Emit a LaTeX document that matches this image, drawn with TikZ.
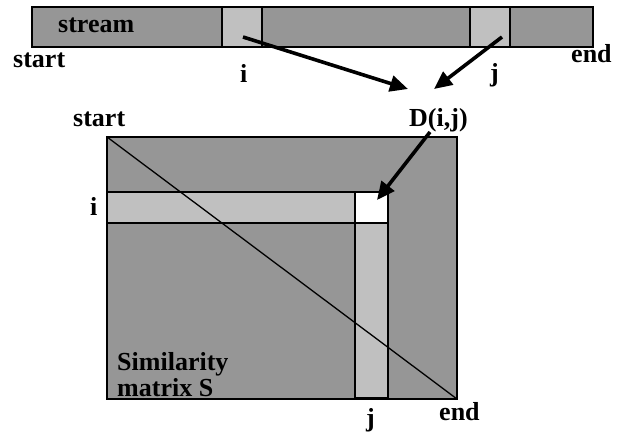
\documentclass[tikz,border=0pt]{standalone}
\usepackage{fontspec}
\setmainfont{Liberation Serif}
\usetikzlibrary{arrows.meta}
\definecolor{darkg}{RGB}{150,150,150}
\definecolor{lightg}{RGB}{192,192,192}
\begin{document}
\begin{tikzpicture}[x=1pt,y=-1pt,
  lbl/.style={inner sep=0pt,anchor=base west,font=\fontsize{26}{29}\selectfont\bfseries},
  darkbox/.style={draw=black,line width=1.8pt,fill=darkg},
  lightbox/.style={draw=black,line width=1.8pt,fill=lightg},
  whitebox/.style={draw=black,line width=1.8pt,fill=white},
  bigarrow/.style={line width=3.6pt,-{Triangle[length=18pt,width=16pt]}}]
\useasboundingbox (0,0) rectangle (623,433);
% stream bar
\draw[darkbox] (32,7) rectangle (593,47);
\draw[lightbox] (222,7) rectangle (262,47);
\draw[lightbox] (470,7) rectangle (510,47);
\node[lbl] (stream) at (58,33) {stream};
\node[lbl] (start1) at (13,68) {start};
\node[lbl] (i1) at (240,83) {i};
\node[lbl] (j1) at (490,82) {j};
\node[lbl] (end1) at (571,63) {end};
\node[lbl] (D) at (409,126) {D(i,j)};
\node[lbl] (start2) at (73,127) {start};
% matrix
\draw[darkbox] (107,137) rectangle (457,399);
\draw[lightbox] (107,192) rectangle (355,223);
\draw[whitebox] (355,192) rectangle (388,223);
\draw[lightbox] (355,223) rectangle (388,398);
\coordinate (mstart) at (107,137);
\coordinate (mend) at (457,399);
\draw[line width=1.3pt] (mstart) -- (mend);
\node[lbl] (i2) at (90,215) {i};
\node[lbl] (sim) at (117,370) {Similarity};
\node[lbl] (mat) at (117,396) {matrix S};
\node[lbl] (j2) at (366,426) {j};
\node[lbl] (end2) at (439,420) {end};
% arrows
\coordinate (ai) at (243,37);
\coordinate (aj) at (502,37);
\coordinate (ti) at (408,89);
\coordinate (tj) at (434,89);
\coordinate (ad) at (430,132);
\coordinate (td) at (377,200);
\draw[bigarrow] (ai) -- (ti);
\draw[bigarrow] (aj) -- (tj);
\draw[bigarrow] (ad) -- (td);
\end{tikzpicture}
\end{document}
